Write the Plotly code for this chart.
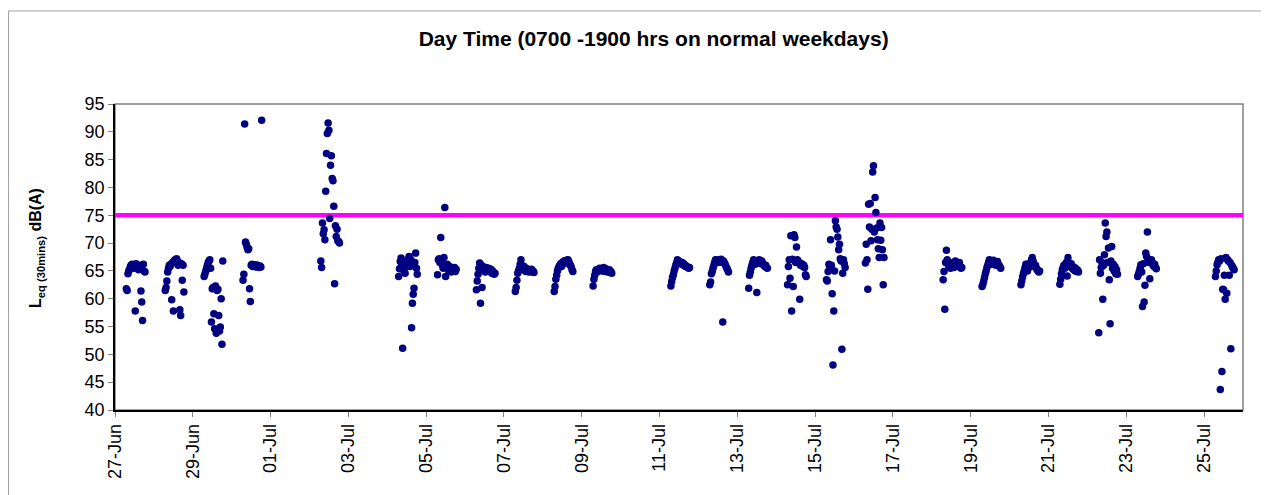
import plotly.graph_objects as go
from datetime import datetime, timedelta

# ---------------- data ----------------
title_text = "Day Time (0700 -1900 hrs on normal weekdays)"
y_title = "<b>L<sub>eq (30mins)</sub> dB(A)</b>"
limit_level = 75
x_start = "2008-06-27"
x_end = "2008-07-26"

jun27 = [61.8, 61.5, 64.5, 65.0, 65.3, 65.8, 66.0, 66.2, 66.0, 65.5, 65.8, 57.8, 66.3, 66.0, 65.5, 65.2, 65.8, 66.0, 61.4, 59.4, 56.1, 66.2, 65.0, 64.8]
jun28 = [61.5, 62.0, 63.2, 64.8, 65.5, 66.0, 65.8, 66.2, 59.8, 66.5, 57.8, 66.8, 67.0, 66.5, 67.2, 66.8, 66.0, 66.5, 58.0, 57.0, 66.3, 63.3, 66.0, 61.2]
jun29 = [64.0, 64.5, 65.0, 65.5, 66.0, 66.5, 66.8, 67.0, 65.5, 55.8, 61.8, 62.0, 57.3, 54.6, 62.3, 53.8, 61.5, 61.7, 57.0, 54.2, 54.9, 60.0, 51.8, 66.8]
jun30 = [63.3, 64.4, 91.4, 70.2, 69.8, 69.3, 68.8, 69.0, 61.8, 59.5, 66.0, 66.2, 65.8, 66.0, 65.9, 66.1, 65.7, 65.8, 66.0, 65.8, 65.6, 65.9, 65.7, 92.1]
jul02 = [66.8, 65.6, 73.6, 71.7, 72.4, 70.6, 79.3, 86.1, 89.7, 91.6, 90.3, 74.4, 84.0, 85.7, 81.6, 81.2, 76.6, 62.7, 73.1, 71.2, 72.5, 70.4, 70.3, 70.0]
jul04 = [64.0, 65.4, 66.7, 67.3, 66.0, 51.1, 65.1, 66.3, 64.6, 65.8, 66.5, 67.0, 66.8, 67.6, 65.8, 67.0, 54.8, 59.2, 60.8, 61.9, 66.5, 68.2, 65.5, 64.4]
jul05 = [64.3, 67.0, 67.2, 66.5, 71.0, 66.8, 66.0, 65.5, 67.4, 76.4, 64.0, 65.8, 66.2, 65.5, 65.0, 65.8, 65.3, 64.8, 65.5, 65.2, 65.0, 65.6, 64.9, 65.3]
jul06 = [61.6, 63.2, 64.4, 65.5, 66.4, 59.2, 66.0, 62.0, 65.8, 65.3, 65.0, 64.8, 65.6, 65.3, 65.0, 65.5, 65.2, 64.9, 65.3, 64.6, 65.0, 64.7, 64.4, 64.6]
jul07 = [61.3, 62.0, 63.3, 64.6, 65.0, 65.5, 66.2, 67.0, 66.0, 65.5, 65.2, 65.8, 65.3, 64.9, 65.4, 65.0, 65.3, 64.8, 65.1, 64.9, 65.3, 64.8, 65.0, 64.7]
jul08 = [61.3, 62.2, 63.5, 64.2, 65.0, 65.5, 65.8, 66.0, 66.3, 65.8, 66.5, 66.2, 66.8, 66.4, 66.6, 66.9, 66.5, 67.0, 66.7, 66.3, 66.0, 65.7, 65.2, 64.9]
jul09 = [62.3, 63.5, 64.2, 64.9, 65.2, 64.8, 65.0, 65.3, 65.5, 65.1, 65.4, 65.0, 65.3, 65.6, 65.2, 64.9, 65.4, 65.1, 64.8, 65.0, 65.2, 64.7, 64.9, 64.6]
jul11 = [62.3, 63.1, 63.8, 64.3, 65.0, 65.5, 66.0, 66.4, 67.0, 66.8, 66.5, 66.7, 66.3, 66.5, 66.2, 66.4, 66.0, 66.1, 65.8, 65.9, 65.7, 65.6, 65.5, 65.6]
jul12 = [62.5, 63.0, 64.5, 64.9, 65.5, 66.0, 66.5, 67.0, 66.8, 66.5, 66.7, 67.0, 66.6, 66.8, 67.1, 66.5, 55.8, 66.8, 66.4, 66.2, 65.8, 65.5, 65.2, 64.8]
jul13 = [61.9, 64.2, 64.8, 65.5, 66.0, 66.5, 67.0, 66.5, 66.2, 66.8, 61.1, 66.4, 66.7, 67.0, 66.5, 66.3, 66.8, 66.5, 66.2, 66.0, 65.8, 66.0, 65.6, 65.5]
jul14 = [62.5, 65.8, 67.0, 63.7, 71.3, 57.8, 67.1, 62.2, 71.5, 71.0, 66.5, 69.3, 67.0, 66.8, 66.4, 59.9, 66.0, 66.3, 66.2, 65.8, 66.0, 65.6, 64.3, 64.0]
jul15 = [63.4, 63.2, 64.9, 66.2, 65.9, 70.6, 66.0, 60.9, 48.1, 57.8, 65.0, 74.0, 72.9, 72.5, 71.1, 68.8, 69.8, 67.2, 66.8, 50.9, 64.6, 67.0, 66.3, 65.6]
jul16 = [66.4, 69.8, 67.0, 61.7, 77.0, 72.9, 77.1, 70.4, 72.5, 82.8, 83.9, 72.0, 78.2, 75.5, 72.7, 70.6, 69.0, 67.4, 73.6, 70.5, 72.8, 68.8, 62.5, 67.4]
jul18 = [63.4, 64.9, 58.1, 66.5, 68.7, 67.0, 66.2, 65.8, 66.5, 65.5, 66.0, 65.7, 66.3, 65.6, 66.1, 66.8, 65.8, 66.3, 65.9, 66.0, 66.5, 65.8, 65.5, 65.6]
jul19 = [62.2, 62.6, 63.2, 63.8, 64.5, 65.0, 65.6, 66.0, 66.5, 67.0, 66.6, 66.2, 66.8, 66.5, 66.9, 66.3, 66.6, 66.0, 66.4, 66.7, 66.2, 66.0, 65.7, 65.5]
jul20 = [62.5, 63.2, 63.9, 64.5, 65.0, 65.6, 66.2, 65.5, 65.0, 65.8, 66.3, 65.7, 66.5, 67.0, 67.4, 66.8, 66.2, 65.8, 66.0, 65.5, 65.2, 65.0, 64.8, 65.0]
jul21 = [62.6, 63.5, 64.5, 65.2, 65.6, 66.0, 65.5, 66.2, 66.5, 64.1, 67.4, 66.5, 66.0, 65.8, 66.3, 65.5, 65.8, 65.2, 65.6, 65.0, 65.4, 64.9, 65.1, 64.8]
jul22 = [53.9, 67.0, 64.6, 65.6, 66.5, 59.9, 66.0, 67.9, 73.6, 71.2, 72.0, 66.5, 69.1, 63.4, 55.5, 66.8, 69.4, 65.5, 66.2, 65.0, 65.8, 64.5, 65.2, 64.4]
jul23 = [64.0, 64.4, 64.9, 65.5, 66.1, 64.8, 58.6, 66.3, 59.4, 62.4, 68.2, 67.6, 72.0, 67.1, 66.5, 63.6, 66.8, 67.0, 66.5, 66.0, 65.8, 66.2, 65.6, 65.4]
jul25 = [64.0, 65.0, 66.1, 66.5, 67.0, 66.8, 43.7, 67.2, 46.9, 61.7, 61.6, 64.2, 59.9, 67.4, 61.0, 67.0, 66.8, 64.2, 66.5, 51.0, 66.0, 65.7, 65.5, 65.2]

measurement_days = [
    ("2008-06-27", jun27), ("2008-06-28", jun28), ("2008-06-29", jun29), ("2008-06-30", jun30),
    ("2008-07-02", jul02), ("2008-07-04", jul04), ("2008-07-05", jul05), ("2008-07-06", jul06),
    ("2008-07-07", jul07), ("2008-07-08", jul08), ("2008-07-09", jul09), ("2008-07-11", jul11),
    ("2008-07-12", jul12), ("2008-07-13", jul13), ("2008-07-14", jul14), ("2008-07-15", jul15),
    ("2008-07-16", jul16), ("2008-07-18", jul18), ("2008-07-19", jul19), ("2008-07-20", jul20),
    ("2008-07-21", jul21), ("2008-07-22", jul22), ("2008-07-23", jul23), ("2008-07-25", jul25),
]

# half-hourly periods from 07:00
times, levels = [], []
for day, vals in measurement_days:
    d0 = datetime.strptime(day, "%Y-%m-%d") + timedelta(hours=7)
    for i, v in enumerate(vals):
        times.append(d0 + timedelta(minutes=30 * i))
        levels.append(v)

FONT = "Arial, 'Liberation Sans', sans-serif"

fig = go.Figure()
fig.add_trace(go.Scatter(
    x=[x_start, x_end], y=[limit_level, limit_level], mode="lines",
    line=dict(color="#FF00FF", width=4.5), hoverinfo="skip", showlegend=False,
))
fig.add_trace(go.Scatter(
    x=times, y=levels, mode="markers",
    marker=dict(color="#000080", size=7.5, line=dict(width=0)),
    showlegend=False,
))

# plot-area frame (gray) and outer chart border
fig.add_shape(type="rect", xref="paper", yref="paper", x0=0, x1=1, y0=0, y1=1,
              line=dict(color="#808080", width=1.5), layer="below")
fig.add_shape(type="rect", xref="paper", yref="paper", x0=-0.0944, x1=1.2, y0=-0.6, y1=1.304,
              line=dict(color="#A0A0A0", width=1), layer="below")

# y-axis title as annotation for exact placement
fig.add_annotation(text=y_title, xref="paper", yref="paper", x=-0.069, y=0.53,
                   textangle=-90, showarrow=False, xanchor="center", yanchor="middle",
                   font=dict(family=FONT, size=16, color="black"))

fig.update_layout(
    width=1261, height=487,
    margin=dict(l=107, r=26, t=96, b=85),
    paper_bgcolor="white", plot_bgcolor="white",
    font=dict(family=FONT, color="black", size=18),
    title=dict(text="<b>" + title_text + "</b>", x=0.512, xanchor="center", y=0.938, yanchor="middle",
               font=dict(family=FONT, size=21, color="black")),
    showlegend=False,
)
fig.update_xaxes(
    type="date", range=[x_start, x_end],
    tick0=x_start, dtick=2 * 86400000, tickformat="%d-%b", tickangle=-90,
    ticks="outside", ticklen=5, tickcolor="#808080",
    showline=True, linecolor="black", linewidth=1.5,
    showgrid=False, zeroline=False,
    tickfont=dict(family=FONT, size=18, color="black"),
)
fig.update_yaxes(
    range=[40, 95], tick0=40, dtick=5,
    ticks="outside", ticklen=5, tickcolor="#808080",
    showline=True, linecolor="black", linewidth=1.5,
    showgrid=False, zeroline=False,
    tickfont=dict(family=FONT, size=18, color="black"),
)

fig.write_html("out.html")
